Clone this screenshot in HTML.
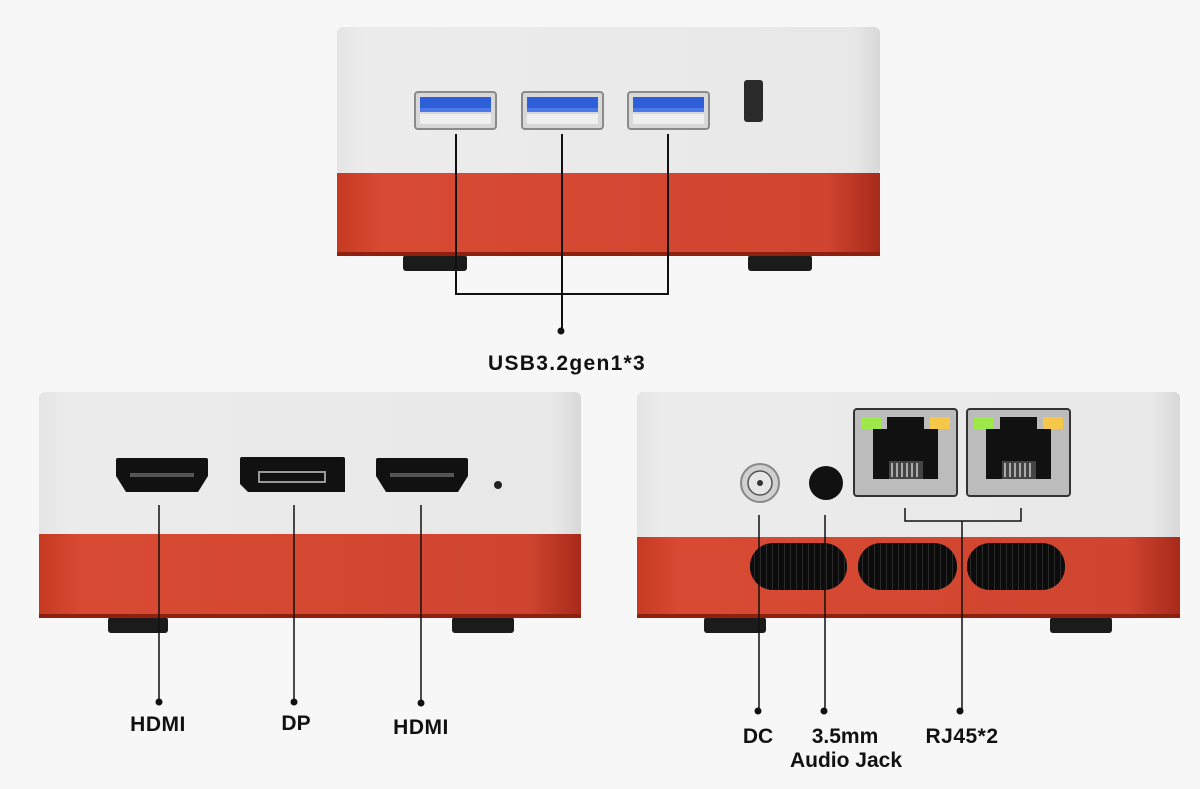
<!DOCTYPE html>
<html><head><meta charset="utf-8"><style>
html,body{margin:0;padding:0;background:#f7f7f7;}
svg{display:block}
text{font-family:"Liberation Sans",sans-serif;font-weight:bold;fill:#111;}
</style></head><body>
<svg width="1200" height="789" viewBox="0 0 1200 789" xmlns="http://www.w3.org/2000/svg">
<defs>
<linearGradient id="wh" x1="0" y1="0" x2="1" y2="0">
<stop offset="0" stop-color="#e4e4e4"/><stop offset="0.05" stop-color="#ececec"/><stop offset="0.95" stop-color="#e8e8e8"/><stop offset="1" stop-color="#d8d8d8"/></linearGradient>
<linearGradient id="rd" x1="0" y1="0" x2="1" y2="0">
<stop offset="0" stop-color="#c73a22"/><stop offset="0.08" stop-color="#d84a33"/><stop offset="0.9" stop-color="#d04530"/><stop offset="1" stop-color="#a82a1a"/></linearGradient>
<pattern id="vent" width="6" height="10" patternUnits="userSpaceOnUse"><rect width="6" height="10" fill="#0c0c0c"/><rect x="4" width="1" height="10" fill="#2a2a2a"/></pattern>
<g id="usb"><rect x="0" y="0" width="81" height="37" rx="3" fill="#d8d8d8" stroke="#8a8a8a" stroke-width="2"/><rect x="5" y="5" width="71" height="13" fill="#2f5fd8"/><rect x="5" y="16" width="71" height="4" fill="#4a78e8"/><rect x="5" y="22" width="71" height="10" fill="#efefef"/></g>
<g id="rj"><rect x="0" y="0" width="103" height="87" rx="3" fill="#bcbcbc" stroke="#333" stroke-width="2"/><rect x="7" y="8" width="20" height="12" fill="#9de84a"/><rect x="76" y="8" width="20" height="12" fill="#f5c84a"/><path d="M33 8 H70 V20 H84 V70 H19 V20 H33 Z" fill="#111"/><rect x="35" y="52" width="34" height="18" fill="#444"/><g stroke="#ccc" stroke-width="1.5"><line x1="38" y1="54" x2="38" y2="68"/><line x1="43" y1="54" x2="43" y2="68"/><line x1="48" y1="54" x2="48" y2="68"/><line x1="53" y1="54" x2="53" y2="68"/><line x1="58" y1="54" x2="58" y2="68"/><line x1="63" y1="54" x2="63" y2="68"/></g></g>
<g id="hdmi"><path d="M0 2 Q0 0 2 0 H90 Q92 0 92 2 V18 L82 34 H10 L0 18 Z" fill="#111"/><rect x="14" y="15" width="64" height="4" fill="#555"/></g>
</defs>
<rect width="1200" height="789" fill="#f7f7f7"/>

<!-- top device -->
<rect x="403" y="255" width="64" height="16" rx="3" fill="#1b1b1b"/>
<rect x="748" y="255" width="64" height="16" rx="3" fill="#1b1b1b"/>
<rect x="337" y="27" width="543" height="148" rx="6" fill="url(#wh)"/>
<rect x="337" y="173" width="543" height="82" fill="url(#rd)"/>
<rect x="337" y="252" width="543" height="4" fill="#8e2010"/>
<use href="#usb" x="415" y="92"/>
<use href="#usb" x="522" y="92"/>
<use href="#usb" x="628" y="92"/>
<rect x="744" y="80" width="19" height="42" rx="3" fill="#2a2a2a"/>
<g stroke="#111" stroke-width="2" fill="none">
<path d="M456 134 V294 H668 V134"/><path d="M562 134 V331"/>
</g>
<circle cx="561" cy="331" r="3.5" fill="#111"/>
<text x="567" y="370" font-size="21" letter-spacing="1.3" text-anchor="middle">USB3.2gen1*3</text>

<!-- bottom-left device -->
<rect x="108" y="617" width="60" height="16" rx="3" fill="#1b1b1b"/>
<rect x="452" y="617" width="62" height="16" rx="3" fill="#1b1b1b"/>
<rect x="39" y="392" width="542" height="145" rx="6" fill="url(#wh)"/>
<rect x="39" y="534" width="542" height="83" fill="url(#rd)"/>
<rect x="39" y="614" width="542" height="4" fill="#8e2010"/>
<use href="#hdmi" x="116" y="458"/>
<path d="M240 459 Q240 457 242 457 H343 Q345 457 345 459 V492 H248 L240 484 Z" fill="#111"/>
<rect x="259" y="472" width="66" height="10" fill="none" stroke="#999" stroke-width="2"/>
<use href="#hdmi" x="376" y="458"/>
<circle cx="498" cy="485" r="4" fill="#222"/>
<g stroke="#111" stroke-width="1.5"><line x1="159" y1="505" x2="159" y2="702"/><line x1="294" y1="505" x2="294" y2="702"/><line x1="421" y1="505" x2="421" y2="703"/></g>
<circle cx="159" cy="702" r="3.5" fill="#111"/><circle cx="294" cy="702" r="3.5" fill="#111"/><circle cx="421" cy="703" r="3.5" fill="#111"/>
<text x="158" y="731" font-size="21" letter-spacing="0.5" text-anchor="middle">HDMI</text>
<text x="296" y="730" font-size="21" text-anchor="middle">DP</text>
<text x="421" y="734" font-size="21" letter-spacing="0.5" text-anchor="middle">HDMI</text>

<!-- bottom-right device -->
<rect x="704" y="617" width="62" height="16" rx="3" fill="#1b1b1b"/>
<rect x="1050" y="617" width="62" height="16" rx="3" fill="#1b1b1b"/>
<rect x="637" y="392" width="543" height="148" rx="6" fill="url(#wh)"/>
<rect x="637" y="537" width="543" height="80" fill="url(#rd)"/>
<rect x="637" y="614" width="543" height="4" fill="#8e2010"/>
<circle cx="760" cy="483" r="19" fill="#d0d0d0" stroke="#888" stroke-width="2"/>
<circle cx="760" cy="483" r="12" fill="#e6e6e6" stroke="#555" stroke-width="1.5"/>
<circle cx="760" cy="483" r="3" fill="#333"/>
<circle cx="826" cy="483" r="17" fill="#111"/>
<use href="#rj" x="854" y="409"/>
<use href="#rj" x="967" y="409"/>
<rect x="750" y="543" width="97" height="47" rx="23" fill="url(#vent)"/>
<rect x="858" y="543" width="99" height="47" rx="23" fill="url(#vent)"/>
<rect x="967" y="543" width="98" height="47" rx="23" fill="url(#vent)"/>
<g stroke="#111" stroke-width="1.5" fill="none">
<path d="M905 508 V521 H1021 V508"/><line x1="962" y1="521" x2="962" y2="711"/>
<line x1="759" y1="515" x2="759" y2="711"/><line x1="825" y1="515" x2="825" y2="711"/>
</g>
<circle cx="758" cy="711" r="3.5" fill="#111"/><circle cx="824" cy="711" r="3.5" fill="#111"/><circle cx="960" cy="711" r="3.5" fill="#111"/>
<text x="758" y="743" font-size="21" text-anchor="middle">DC</text>
<text x="845" y="743" font-size="21" text-anchor="middle">3.5mm</text>
<text x="846" y="767" font-size="21" text-anchor="middle">Audio Jack</text>
<text x="962" y="743" font-size="21" letter-spacing="0.5" text-anchor="middle">RJ45*2</text>
</svg>
</body></html>
